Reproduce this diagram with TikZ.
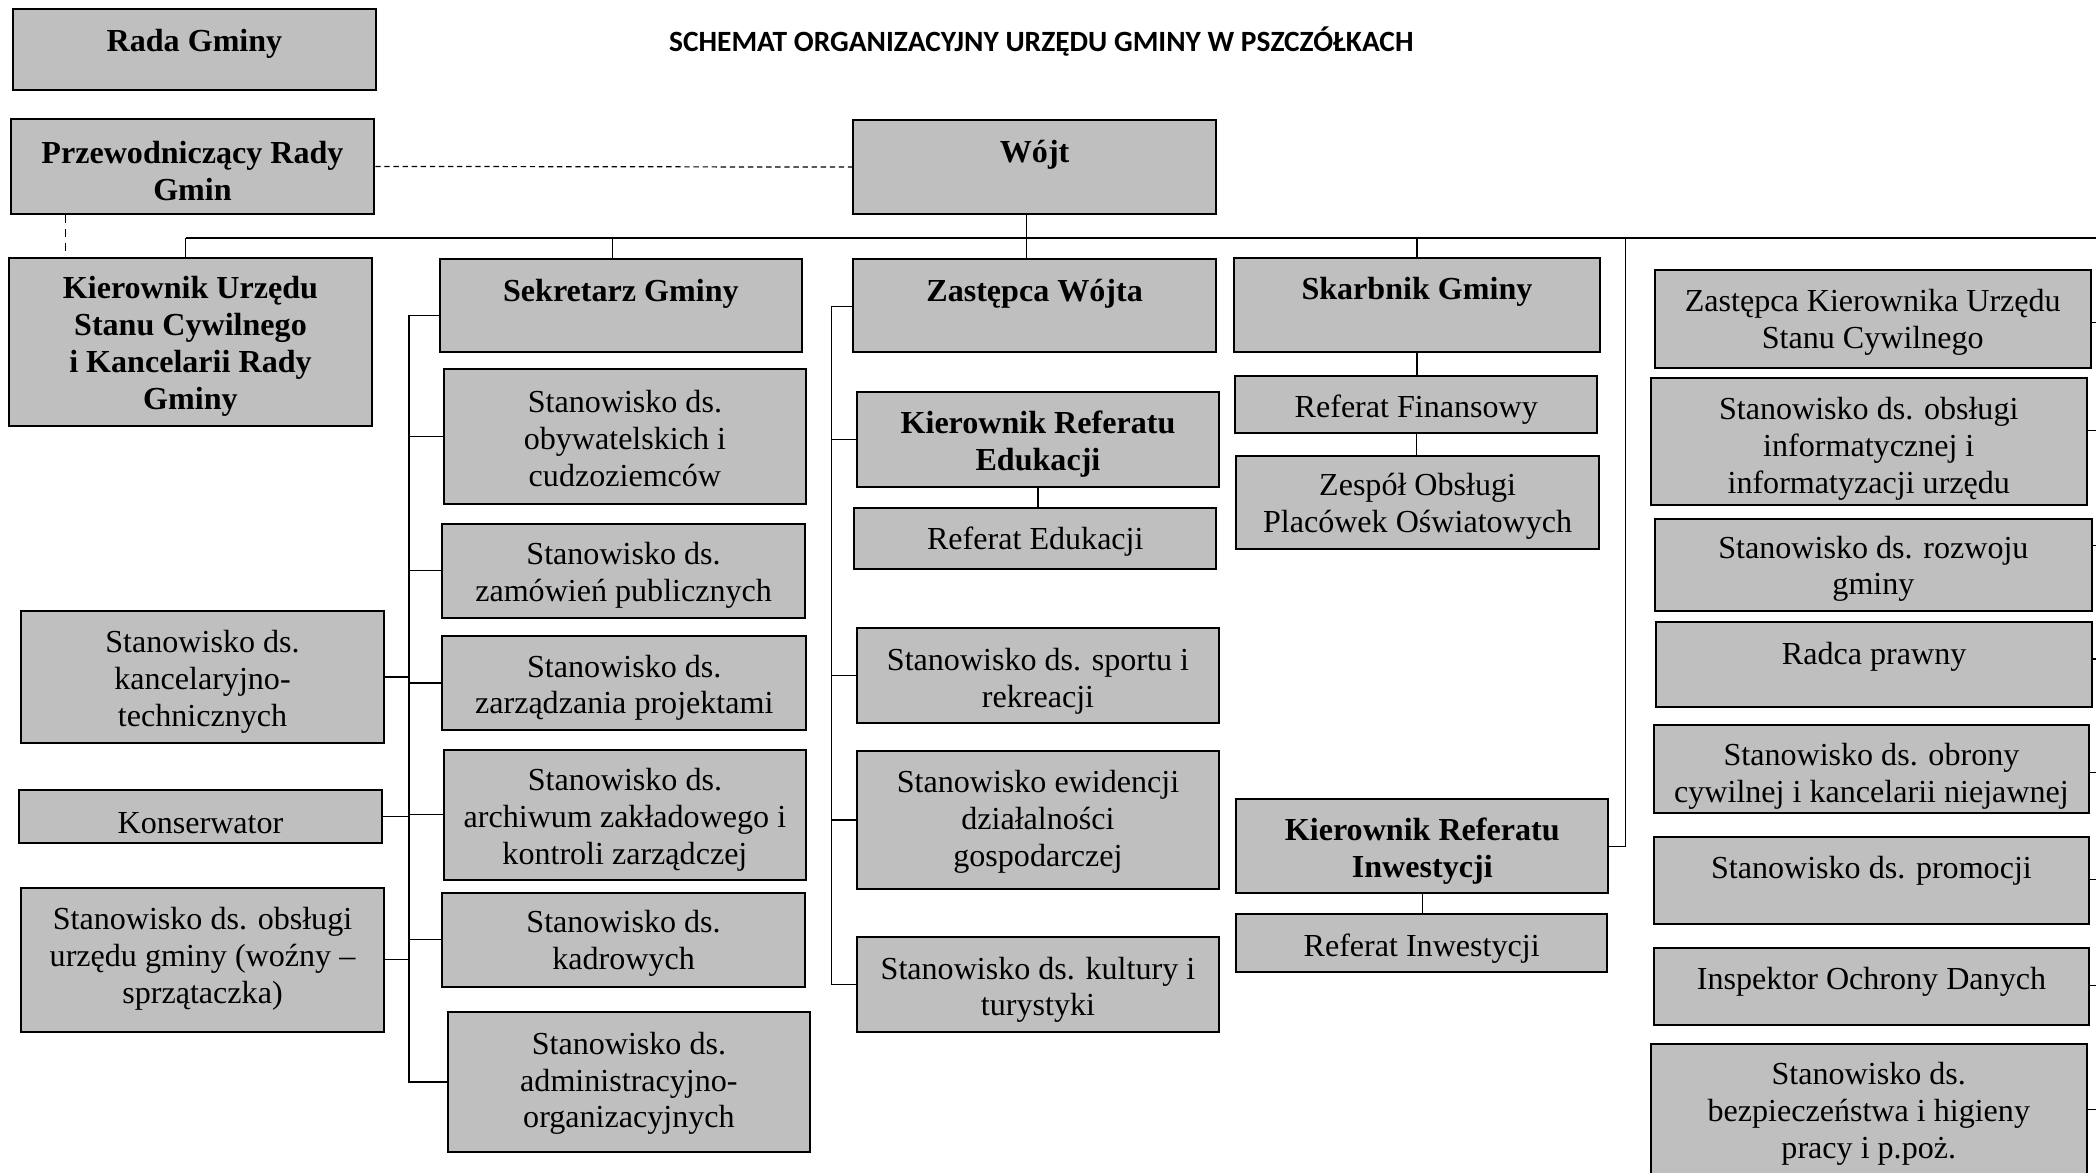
\documentclass[tikz,border=0pt]{standalone}
\usepackage{fontspec}
\setmainfont{Liberation Serif}
\newfontfamily\titlefont{Carlito}
\usetikzlibrary{fit,calc}
\definecolor{boxgray}{RGB}{191,191,191}
\tikzset{
  boxshape/.style={draw=black, fill=boxgray, line width=0.75pt, inner sep=0pt, rectangle},
  lbl/.style={font=\fontsize{12}{13.8}\selectfont, align=center, inner sep=0pt},
  lblb/.style={font=\fontsize{12}{13.8}\selectfont\bfseries, align=center, inner sep=0pt},
  conn/.style={draw=black, line width=0.45pt},
  dashconn/.style={conn, dash pattern=on 2pt off 1.4pt},
  dashconnv/.style={conn, dash pattern=on 3pt off 2.2pt},
}
% #1 name, #2 x1, #3 y1, #4 x2, #5 y2, #6 text centre y, #7 text style, #8 text
\newcommand\orgbox[8]{%
  \node[boxshape, fit={(#2,#3) (#4,#5)}] (#1) {};
  \node[#7] (#1-t) at ({(#2+#4)/2},{#6+2.5}) {#8};
}
\begin{document}
\begin{tikzpicture}[x=0.5pt, y=-0.5pt]
\useasboundingbox (0,0) rectangle (1568,877);

\node[font=\titlefont\fontsize{11}{13}\selectfont\bfseries, inner sep=0pt] (title) at (779,31) {SCHEMAT ORGANIZACYJNY URZĘDU GMINY W PSZCZÓŁKACH};

% top level
\orgbox{rada}{10}{7}{281}{67}{30}{lblb}{Rada Gminy}
\orgbox{przew}{8}{89}{280}{160}{125.5}{lblb}{Przewodniczący Rady\\Gmin}
\orgbox{wojt}{638}{90}{910}{160}{113}{lblb}{Wójt}

% second level
\orgbox{kusc}{7}{193}{278}{319}{256.5}{lblb}{Kierownik Urzędu\\Stanu Cywilnego\\i Kancelarii Rady\\Gminy}
\orgbox{sek}{329}{194}{600}{263}{217}{lblb}{Sekretarz Gminy}
\orgbox{zw}{638}{194}{910}{263}{217}{lblb}{Zastępca Wójta}
\orgbox{sk}{923}{193}{1197}{263}{216}{lblb}{Skarbnik Gminy}

% Sekretarz column
\orgbox{obyw}{332}{276}{603}{377}{325.5}{lbl}{Stanowisko ds.\\obywatelskich i\\cudzoziemców}
\orgbox{zam}{331}{392}{602}{462}{428}{lbl}{Stanowisko ds.\\zamówień publicznych}
\orgbox{proj}{331}{476}{603}{546}{512}{lbl}{Stanowisko ds.\\zarządzania projektami}
\orgbox{arch}{332}{561}{603}{658}{610.5}{lbl}{Stanowisko ds.\\archiwum zakładowego i\\kontroli zarządczej}
\orgbox{kadr}{331}{668}{602}{738}{703.5}{lbl}{Stanowisko ds.\\kadrowych}
\orgbox{adm}{335}{757}{606}{862}{808}{lbl}{Stanowisko ds.\\administracyjno-\\organizacyjnych}

% left column
\orgbox{kanc}{16}{457}{287}{556}{507.5}{lbl}{Stanowisko ds.\\kancelaryjno-\\technicznych}
\orgbox{kons}{14}{591}{286}{631}{613}{lbl}{Konserwator}
\orgbox{wozny}{16}{664}{287}{772}{714.5}{lbl}{Stanowisko ds. obsługi\\urzędu gminy (woźny –\\sprzątaczka)}

% Zastepca column
\orgbox{kre}{641}{293}{912}{364}{329.5}{lblb}{Kierownik Referatu\\Edukacji}
\orgbox{re}{639}{380}{910}{426}{403}{lbl}{Referat Edukacji}
\orgbox{sport}{641}{470}{912}{541}{507}{lbl}{Stanowisko ds. sportu i\\rekreacji}
\orgbox{ewid}{641}{562}{912}{665}{612.5}{lbl}{Stanowisko ewidencji\\działalności\\gospodarczej}
\orgbox{kult}{641}{701}{912}{772}{738}{lbl}{Stanowisko ds. kultury i\\turystyki}

% Skarbnik column
\orgbox{rf}{924}{281}{1195}{324}{304}{lbl}{Referat Finansowy}
\orgbox{zop}{925}{341}{1196}{411}{376}{lbl}{Zespół Obsługi\\Placówek Oświatowych}
\orgbox{kri}{925}{598}{1203}{668}{634}{lblb}{Kierownik Referatu\\Inwestycji}
\orgbox{rinw}{925}{684}{1202}{727}{707}{lbl}{Referat Inwestycji}

% right column
\orgbox{zk}{1238}{202}{1564}{275}{238.5}{lbl}{Zastępca Kierownika Urzędu\\Stanu Cywilnego}
\orgbox{info}{1235}{283}{1561}{378}{333}{lbl}{Stanowisko ds. obsługi\\informatycznej i\\informatyzacji urzędu}
\orgbox{rozw}{1238}{388}{1565}{457}{423}{lbl}{Stanowisko ds. rozwoju\\gminy}
\orgbox{radca}{1239}{465}{1565}{529}{489}{lbl}{Radca prawny}
\orgbox{obr}{1237}{542}{1563}{608}{578.5}{lbl}{Stanowisko ds. obrony\\cywilnej i kancelarii niejawnej}
\orgbox{prom}{1237}{626}{1563}{691}{649}{lbl}{Stanowisko ds. promocji}
\orgbox{iod}{1237}{709}{1563}{767}{732}{lbl}{Inspektor Ochrony Danych}
\orgbox{bhp}{1235}{781}{1561}{895}{830.5}{lbl}{Stanowisko ds.\\bezpieczeństwa i higieny\\pracy i p.poż.}

% dashed links
\draw[dashconn] (przew.east) -- (wojt.west);
\coordinate (dv) at (49,0);
\draw[dashconnv] (dv |- przew.south) -- (dv |- kusc.north);

% main bus
\coordinate (busL) at (139,178);
\coordinate (busR) at (1568,178);
\coordinate (bs) at (458,178);
\coordinate (bw) at (768,178);
\coordinate (br) at (1216,178);
\draw[conn] (busL) -- (busR);
\draw[conn] (busL) -- (busL |- kusc.north);
\draw[conn] (bs) -- (bs |- sek.north);
\draw[conn] (bw |- wojt.south) -- (bw |- zw.north);
\draw[conn] (sk.north |- busL) -- (sk.north);
\draw[conn] (br) |- (kri.east);

% Sekretarz spine
\coordinate (sp1) at (306,236);
\coordinate (sp2) at (306,809.5);
\draw[conn] (sp1 -| sek.west) -- (sp1) -- (sp2) -- (adm.west);
\foreach \n in {obyw,zam,proj,arch,kadr}{
  \draw[conn] (sp1 |- \n.west) -- (\n.west);
}
\foreach \n in {kanc,kons,wozny}{
  \draw[conn] (\n.east) -- (sp1 |- \n.east);
}

% Zastepca spine
\coordinate (zp1) at (622,229);
\draw[conn] (zp1 -| zw.west) -- (zp1) |- (kult.west);
\foreach \n in {kre,sport,ewid}{
  \draw[conn] (zp1 |- \n.west) -- (\n.west);
}

% vertical links inside columns
\draw[conn] (kre.south) -- (kre.south |- re.north);
\draw[conn] (sk.south) -- (sk.south |- rf.north);
\draw[conn] (rf.south) -- (rf.south |- zop.north);
\draw[conn] (kri.south) -- (kri.south |- rinw.north);

% right stubs
\coordinate (rr) at (1568,0);
\draw[conn] (zk.east |- 0,241) -- (rr |- 0,241);
\draw[conn] (info.east |- 0,322) -- (rr |- 0,322);
\draw[conn] (rozw.east |- 0,408) -- (rr |- 0,408);
\draw[conn] (radca.east |- 0,493) -- (rr |- 0,493);
\draw[conn] (obr.east |- 0,578) -- (rr |- 0,578);
\draw[conn] (prom.east |- 0,658) -- (rr |- 0,658);
\draw[conn] (iod.east |- 0,737) -- (rr |- 0,737);
\draw[conn] (bhp.east |- 0,830) -- (rr |- 0,830);
\end{tikzpicture}
\end{document}
